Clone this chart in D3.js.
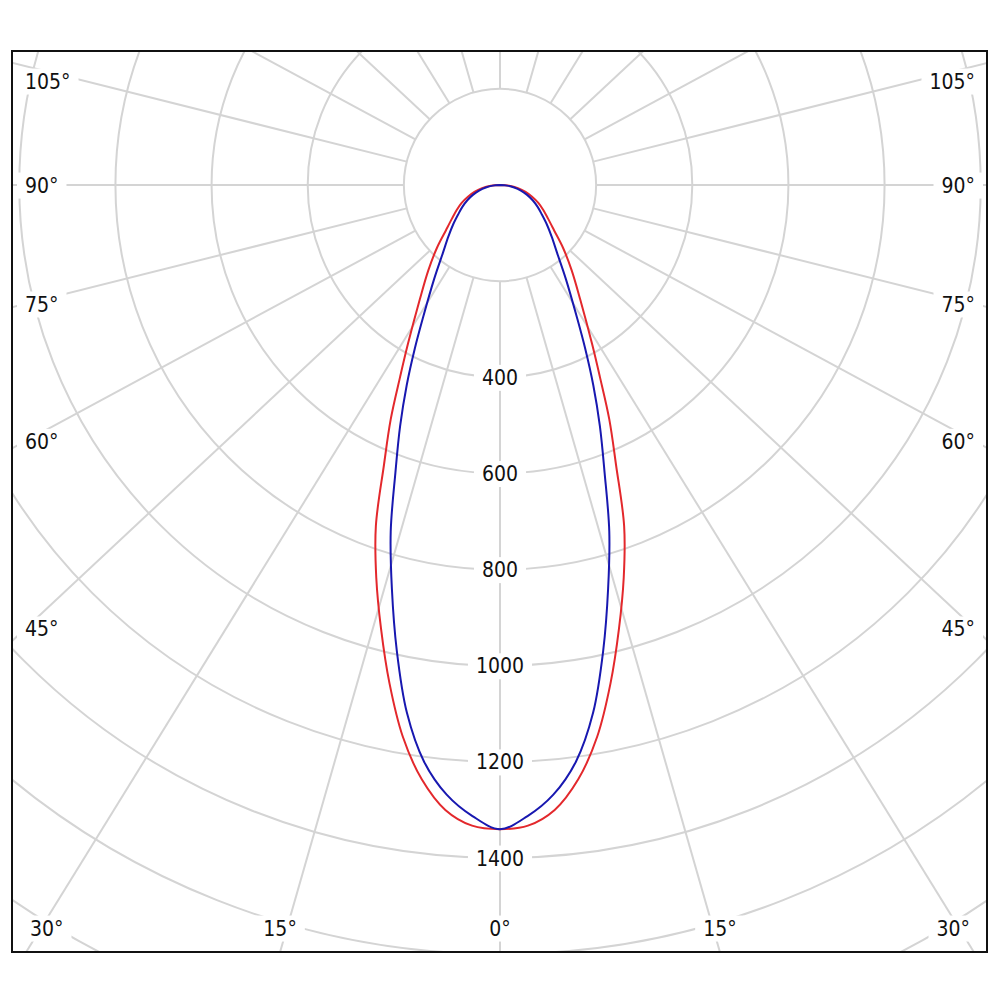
<!DOCTYPE html>
<html>
<head>
<meta charset="utf-8">
<script src="https://cdn.jsdelivr.net/npm/d3@7"></script>
<style>
  html, body { margin: 0; padding: 0; background: #fff; }
  text { font-family: "DejaVu Sans Condensed", "DejaVu Sans", sans-serif; font-size: 21px; fill: #111; }
</style>
</head>
<body>
<svg id="chart" width="1000" height="1000"></svg>
<script>
  // angles in degrees measured from nadir (straight down)
  const angles = [0, 2.5, 5, 7.5, 10, 12.5, 15, 17.5, 20, 22.5, 25, 27.5, 30,
                  35, 40, 45, 50, 55, 60, 65, 70, 75, 80, 85, 90];
  // cd values, red plane
  const planeA = [1340, 1334, 1305, 1247, 1165, 1062, 956, 856, 755, 631, 538, 450, 384,
                  291, 232, 186, 147, 122, 104, 88, 71, 55, 38, 19, 0];
  // cd values, blue plane
  const planeB = [1340, 1314, 1273, 1210, 1115, 992, 869, 756, 636, 543, 459, 384, 322,
                  239, 185, 152, 127, 106, 90, 75, 60, 45, 30, 15, 0];

  const ringValues = [200, 400, 600, 800, 1000, 1200, 1400, 1600, 1800, 2000];
  const ringLabels = [400, 600, 800, 1000, 1200, 1400];
  const spokeAngles = d3.range(0, 360, 15);
  const angleLabels = [0, 15, 30, 45, 60, 75, 90, 105];

  const svg = d3.select('#chart');

  const frame = { left: 12, top: 51, right: 987, bottom: 952 };
  const cx = 500, cy = 185;
  const spokeStretch = 1.07;   // spokes in the original are drawn slightly wide

  const rScale = d3.scaleLinear()
    .domain([0, 1400])
    .range([0, 673]);

  const rad = (d) => d * Math.PI / 180;

  svg.append('clipPath')
    .attr('id', 'frameClip')
    .append('rect')
    .attr('x', frame.left)
    .attr('y', frame.top)
    .attr('width', frame.right - frame.left)
    .attr('height', frame.bottom - frame.top);

  const plot = svg.append('g')
    .attr('clip-path', 'url(#frameClip)');

  const grid = plot.append('g')
    .attr('transform', `translate(${cx}, ${cy})`)
    .attr('fill', 'none')
    .attr('stroke', '#d4d4d4')
    .attr('stroke-width', 2);

  // rings
  grid.selectAll('circle')
    .data(ringValues)
    .enter()
    .append('circle')
    .attr('r', (d) => rScale(d));

  // spoke direction (unit vector) for an angle from nadir
  const spokeDir = (a) => {
    const dx = spokeStretch * Math.sin(rad(a));
    const dy = Math.cos(rad(a));
    const len = Math.hypot(dx, dy);
    return [dx / len, dy / len];
  };

  grid.selectAll('line')
    .data(spokeAngles)
    .enter()
    .append('line')
    .attr('x1', (a) => spokeDir(a)[0] * rScale(200))
    .attr('y1', (a) => spokeDir(a)[1] * rScale(200))
    .attr('x2', (a) => spokeDir(a)[0] * 1400)
    .attr('y2', (a) => spokeDir(a)[1] * 1400);

  // curves, mirrored to both sides
  const mirror = (vals) => {
    const left = angles.map((a, i) => [-a, vals[i]]).reverse();
    const right = angles.map((a, i) => [a, vals[i]]).slice(1);
    return left.concat(right);
  };

  const radial = d3.lineRadial()
    .angle((d) => Math.PI - rad(d[0]))
    .radius((d) => rScale(d[1]))
    .curve(d3.curveCatmullRom.alpha(0.5));

  const curves = plot.append('g')
    .attr('transform', `translate(${cx}, ${cy})`)
    .attr('fill', 'none')
    .attr('stroke-width', 2)
    .attr('stroke-linejoin', 'round');

  curves.append('path')
    .attr('d', radial(mirror(planeA)))
    .attr('stroke', '#e3282c');

  curves.append('path')
    .attr('d', radial(mirror(planeB)))
    .attr('stroke', '#1818b0');

  // labels with white background
  const labels = svg.append('g');

  const addLabel = function (x, y, str, anchor) {
    const g = labels.append('g');
    const t = g.append('text')
      .attr('x', x)
      .attr('y', y)
      .attr('dy', '0.36em')
      .attr('text-anchor', anchor)
      .text(str);
    const b = t.node().getBBox();
    g.insert('rect', 'text')
      .attr('x', b.x - 8)
      .attr('y', b.y - 1)
      .attr('width', b.width + 16)
      .attr('height', b.height + 2)
      .attr('fill', '#fff');
    return t;
  };

  ringLabels.forEach((v) => {
    addLabel(cx, cy + rScale(v), `${v}`, 'middle');
  });

  const textLeft = 25, textRight = 975, textTop = 81, textBottom = 928;

  angleLabels.forEach((a) => {
    [-1, 1].forEach((side) => {
      if (a === 0 && side === 1) return;
      const [ux, uy] = spokeDir(a);
      const dx = ux * side;
      // where does the spoke meet the side frame vs the bottom frame
      const tSide = (side < 0 ? (cx - frame.left) : (frame.right - cx)) / Math.max(Math.abs(dx), 1e-9);
      const tBottom = uy > 0 ? (frame.bottom - cy) / uy : Infinity;
      if (tBottom < tSide) {
        const x = cx + dx * tBottom;
        const t = addLabel(x, textBottom, `${a}°`, 'middle');
        const w = t.node().getBBox().width;
        const xc = Math.max(textLeft + 5 + w / 2, Math.min(textRight - 5 - w / 2, x));
        t.attr('x', xc);
        t.node().parentNode.querySelector('rect').setAttribute('x', xc - w / 2 - 8);
      } else {
        const xEdge = side < 0 ? textLeft : textRight;
        let y = cy + uy * Math.abs(xEdge - cx) / Math.abs(dx);
        y = Math.max(textTop, y);
        addLabel(xEdge, y, `${a}°`, side < 0 ? 'start' : 'end');
      }
    });
  });

  // frame
  svg.append('rect')
    .attr('x', frame.left)
    .attr('y', frame.top)
    .attr('width', frame.right - frame.left)
    .attr('height', frame.bottom - frame.top)
    .attr('fill', 'none')
    .attr('stroke', '#111')
    .attr('stroke-width', 2);
</script>
</body>
</html>
